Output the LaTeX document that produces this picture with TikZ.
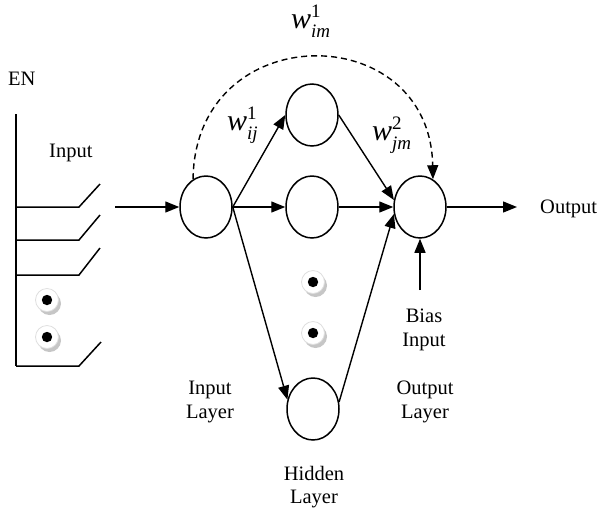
\documentclass[tikz,border=0pt]{standalone}
\usepackage{fontspec}
\setmainfont{Liberation Serif}
\usetikzlibrary{arrows.meta,shapes.geometric}
\newcommand{\wsym}[2]{\textit{w}\rlap{\raisebox{11pt}{\fontsize{19}{19}\selectfont #1}}\raisebox{-9pt}{\fontsize{19}{19}\selectfont\textit{#2}}}
\tikzset{
  neuron/.style={ellipse,draw,line width=1.5pt,minimum width=52pt,minimum height=62pt,inner sep=0pt},
  conn/.style={line width=1.4pt,-{Triangle[length=14pt,width=11pt]}},
  wire/.style={line width=1.5pt},
  lbl/.style={font=\fontsize{20.5}{23.5}\selectfont,inner sep=0pt,align=center},
  wlbl/.style={font=\fontsize{30}{32}\selectfont,inner sep=0pt},
  bead/.pic={
    \fill[gray!45] (2.5,3.5) circle (11.5);
    \fill[white,draw=gray!25,line width=0.8pt] (0,0) circle (11.5);
    \fill[black] (0,0) circle (5.2);
  }
}
\begin{document}
\begin{tikzpicture}[x=1pt,y=-1pt]
\useasboundingbox (0,0) rectangle (602,515);
% bus and switches
\draw[wire] (16,114) -- (16,366);
\draw[wire] (16,207) -- (79,207) -- (100,184);
\draw[wire] (16,240) -- (79,240) -- (100,215);
\draw[wire] (16,275) -- (79,275) -- (100,248);
\draw[wire] (16,366) -- (79,366) -- (101,342);
\pic at (47,300) {bead};
\pic at (47,337) {bead};
\pic at (313,282) {bead};
\pic at (313,333) {bead};
% neurons
\node[neuron] (in) at (206,207) {};
\node[neuron] (h1) at (312,115) {};
\node[neuron] (h2) at (312,207) {};
\node[neuron] (h3) at (313,409) {};
\node[neuron] (out) at (420,207) {};
\coordinate (src) at (115,207);
\coordinate (dst) at (517,207);
\coordinate (bias) at (420,290);
% connectors
\draw[conn] (src) -- (in.west);
\draw[conn] (in.east) -- (h1.west);
\draw[conn] (in.east) -- (h2.west);
\draw[conn] (in.east) -- (h3.160);
\draw[conn] (h1.east) -- (out.165);
\draw[conn] (h2.east) -- (out.west);
\draw[conn] (h3.15) -- (out.195);
\draw[conn] (out.east) -- (dst);
\draw[conn] (bias) -- (out.south);
\draw[line width=1.4pt,dash pattern=on 6pt off 4pt,-{Triangle[length=14pt,width=11pt]}]
  (in.115) .. controls (195,17) and (430,17) .. (out.65);
% labels
\node[lbl,anchor=base west] (en) at (8,85) {EN};
\node[lbl,anchor=base west] (inlbl) at (49,157) {Input};
\node[lbl,anchor=base west] (outlbl) at (540,213) {Output};
\node[lbl] (biaslbl) at (424,330) {Bias\\Input};
\node[lbl] (inlayer) at (210,402) {Input\\Layer};
\node[lbl] (outlayer) at (425,402) {Output\\Layer};
\node[lbl] (hidlayer) at (314,487) {Hidden\\Layer};
\node[wlbl,anchor=base west] (wim) at (291,28) {\wsym{1}{im}};
\node[wlbl,anchor=base west] (wij) at (227,130) {\wsym{1}{ij}};
\node[wlbl,anchor=base west] (wjm) at (372,140) {\wsym{2}{jm}};
\end{tikzpicture}
\end{document}
